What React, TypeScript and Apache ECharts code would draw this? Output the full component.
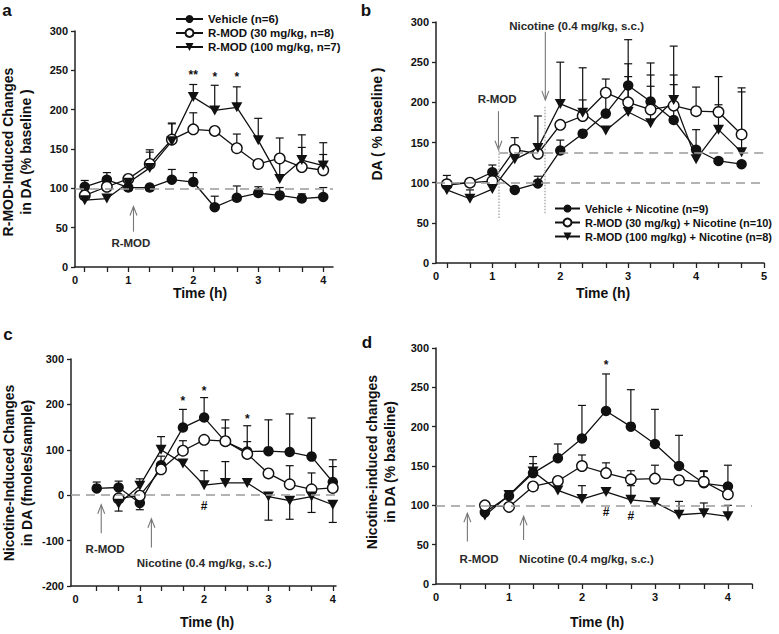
import React, { useEffect, useRef } from "react";
import * as echarts from "echarts";

const FONT = '"Liberation Sans", Arial, Helvetica, sans-serif';
const INK = "#111";

// ---------- Panel a ----------
const timesA = [0.33, 0.67, 1, 1.33, 1.67, 2, 2.33, 2.67, 3, 3.33, 3.67, 4];
const vehA = [102, 111, 101, 101, 111, 108, 76, 88, 94, 91, 87, 89];
const vehAErr = [8, 9, 0, 0, 13, 12, 14, 15, 8, 10, 6, 12];
const r30A = [91, 102, 112, 131, 162, 175, 173, 151, 131, 138, 127, 123];
const r30AErr = [0, 0, 0, 18, 21, 21, 0, 18, 0, 0, 25, 20];
const r100A = [85, 87, 107, 126, 160, 216, 199, 203, 161, 112, 136, 129];
const r100AErr = [0, 0, 0, 20, 22, 16, 32, 26, 28, 52, 32, 29];
const legendA = ["Vehicle (n=6)", "R-MOD (30 mg/kg, n=8)", "R-MOD (100 mg/kg, n=7)"];

// ---------- Panel b ----------
const timesB = [0.33, 0.67, 1, 1.33, 1.67, 2, 2.33, 2.67, 3, 3.33, 3.67, 4, 4.33, 4.67];
const vehB = [97, 100, 113, 91, 99, 140, 161, 186, 221, 201, 178, 141, 127, 123];
const vehBErr = [12, 0, 9, 0, 9, 13, 0, 30, 57, 48, 44, 25, 0, 0];
const r30B = [98, 100, 102, 141, 136, 172, 183, 212, 200, 191, 196, 189, 188, 160];
const r30BErr = [0, 0, 0, 15, 0, 0, 20, 17, 48, 43, 38, 30, 44, 58];
const r100B = [91, 80, 92, 129, 143, 198, 187, 165, 188, 174, 203, 129, 166, 138];
const r100BErr = [0, 11, 0, 0, 40, 52, 56, 0, 44, 46, 67, 0, 31, 75];
const legendB = [
  "Vehicle + Nicotine (n=9)",
  "R-MOD (30 mg/kg) + Nicotine (n=10)",
  "R-MOD (100 mg/kg) + Nicotine (n=8)",
];

// ---------- Panel c ----------
const timesC = [0.33, 0.67, 1, 1.33, 1.67, 2, 2.33, 2.67, 3, 3.33, 3.67, 4];
const vehC = [15, 17, -17, 66, 149, 171, 118, 96, 97, 95, 85, 29];
const vehCErr = [14, 14, -15, 20, 40, 44, 48, 57, 69, 84, 85, 49];
const r30C = [null, -7, -1, 57, 98, 122, 119, 91, 48, 24, 13, 16];
const r30CErr = [0, 0, 0, 0, 22, 0, 29, 27, 0, 41, 36, 47];
const r100C = [null, -19, 21, 100, 70, 22, 27, 27, -3, -12, -3, -21];
const r100CErr = [0, -16, 15, 29, 0, 32, 47, 0, -52, -41, -35, -39];

// ---------- Panel d ----------
const timesD = [0.67, 1, 1.33, 1.67, 2, 2.33, 2.67, 3, 3.33, 3.67, 4];
const vehD = [91, 112, 141, 160, 185, 220, 200, 178, 150, 128, 124];
const vehDErr = [0, 0, 21, 18, 42, 47, 47, 44, 39, 16, 27];
const r30D = [100, 98, 124, 131, 150, 141, 133, 134, 132, 130, 114];
const r30DErr = [0, 0, 0, 0, 14, 13, 11, 17, 0, 13, 0];
const r100D = [87, 113, 143, 119, 108, 117, 107, 104, 88, 90, 86];
const r100DErr = [0, 0, 10, 0, 17, 0, 18, 0, 17, 13, 14];

// tick labels
const xLabelsAB = [1, 2, 3, 4, 5];
const xTicksThird = [0.33, 0.67, 1, 1.33, 1.67, 2, 2.33, 2.67, 3, 3.33, 3.67, 4, 4.33, 4.67, 5];

type Note = { x: number; y: number; text: string };
type Arrow = { x: number; tail: number; head: number };

const notesA: Note[] = [
  { x: 2, y: 244, text: "**" },
  { x: 2.33, y: 242, text: "*" },
  { x: 2.67, y: 241, text: "*" },
  { x: 1.04, y: 30, text: "R-MOD" },
];
const arrowsA: Arrow[] = [{ x: 1.08, tail: 45, head: 77 }];

const notesB: Note[] = [
  { x: 1.07, y: 204, text: "R-MOD" },
  { x: 2.24, y: 295, text: "Nicotine (0.4 mg/kg, s.c.)" },
];
const arrowsB: Arrow[] = [
  { x: 1.09, tail: 189, head: 141 },
  { x: 1.78, tail: 288, head: 203 },
];

const notesC: Note[] = [
  { x: 1.67, y: 207, text: "*" },
  { x: 2, y: 230, text: "*" },
  { x: 2.67, y: 168, text: "*" },
  { x: 2, y: -23, text: "#" },
  { x: 0.46, y: -119, text: "R-MOD" },
  { x: 2.0, y: -150, text: "Nicotine (0.4 mg/kg, s.c.)" },
];
const arrowsC: Arrow[] = [
  { x: 0.4, tail: -84, head: -21 },
  { x: 1.18, tail: -115, head: -52 },
];

const notesD: Note[] = [
  { x: 2.33, y: 278, text: "*" },
  { x: 2.33, y: 91, text: "#" },
  { x: 2.67, y: 86, text: "#" },
  { x: 0.59, y: 32, text: "R-MOD" },
  { x: 2.06, y: 32, text: "Nicotine (0.4 mg/kg, s.c.)" },
];
const arrowsD: Arrow[] = [
  { x: 0.43, tail: 54, head: 90 },
  { x: 1.2, tail: 56, head: 86 },
];

const TRI = "path://M0,0L10,0L5,9Z";

function pairs(times: number[], vals: (number | null)[]) {
  const out: number[][] = [];
  times.forEach((t, i) => {
    const v = vals[i];
    if (v !== null && v !== undefined) out.push([t, v]);
  });
  return out;
}

function lineSeries(name: string, gi: number, times: number[], vals: (number | null)[], kind: string, extra: any = {}) {
  const sym = kind === "tri" ? TRI : "circle";
  return {
    type: "line",
    name,
    xAxisIndex: gi,
    yAxisIndex: gi,
    data: pairs(times, vals),
    symbol: sym,
    symbolSize: kind === "tri" ? [11, 10] : 10.5,
    showSymbol: true,
    silent: true,
    z: 3,
    lineStyle: { color: INK, width: 1.3 },
    itemStyle: {
      color: kind === "open" ? "#fff" : INK,
      borderColor: INK,
      borderWidth: kind === "open" ? 1.4 : 0,
    },
    emphasis: { disabled: true },
    ...extra,
  };
}

function errorBars(gi: number, times: number[], vals: (number | null)[], errs: number[]) {
  const data: number[][] = [];
  times.forEach((t, i) => {
    const v = vals[i];
    if (v !== null && v !== undefined && errs[i]) data.push([t, v, v + errs[i]]);
  });
  return {
    type: "custom",
    xAxisIndex: gi,
    yAxisIndex: gi,
    silent: true,
    z: 2,
    data,
    encode: { x: 0, y: [1, 2] },
    renderItem: (_p: any, api: any) => {
      const a = api.coord([api.value(0), api.value(1)]);
      const b = api.coord([api.value(0), api.value(2)]);
      const st = { stroke: INK, lineWidth: 1.2 };
      return {
        type: "group",
        children: [
          { type: "line", shape: { x1: a[0], y1: a[1], x2: b[0], y2: b[1] }, style: st },
          { type: "line", shape: { x1: b[0] - 4, y1: b[1], x2: b[0] + 4, y2: b[1] }, style: st },
        ],
      };
    },
  };
}

function arrowSeries(gi: number, list: Arrow[]) {
  return {
    type: "custom",
    xAxisIndex: gi,
    yAxisIndex: gi,
    silent: true,
    z: 4,
    data: list.map((a) => [a.x, a.tail, a.head]),
    encode: { x: 0, y: [1, 2] },
    renderItem: (_p: any, api: any) => {
      const t = api.coord([api.value(0), api.value(1)]);
      const h = api.coord([api.value(0), api.value(2)]);
      const dir = t[1] > h[1] ? 1 : -1;
      const st = { stroke: "#777", lineWidth: 1.1, fill: "none" };
      return {
        type: "group",
        children: [
          { type: "line", shape: { x1: t[0], y1: t[1], x2: h[0], y2: h[1] }, style: st },
          {
            type: "polyline",
            shape: { points: [[h[0] - 3.5, h[1] + dir * 9], [h[0], h[1]], [h[0] + 3.5, h[1] + dir * 9]] },
            style: st,
          },
        ],
      };
    },
  };
}

function noteSeries(gi: number, list: Note[]) {
  return {
    type: "custom",
    xAxisIndex: gi,
    yAxisIndex: gi,
    silent: true,
    z: 5,
    data: list.map((n) => [n.x, n.y]),
    encode: { x: 0, y: 1 },
    renderItem: (p: any, api: any) => {
      const c = api.coord([api.value(0), api.value(1)]);
      const n = list[p.dataIndex];
      const small = n.text.length <= 2;
      return {
        type: "text",
        x: c[0],
        y: c[1],
        style: {
          text: n.text,
          fill: small ? INK : "#2a2a2a",
          fontSize: small ? 12 : 11.5,
          fontWeight: "bold",
          fontFamily: FONT,
          align: "center",
          verticalAlign: "middle",
        },
      };
    },
  };
}

const dashed = { color: "#9a9a9a", type: [9, 6], width: 1.5 };
const dotted = { color: "#b0b0b0", type: "dotted", width: 1.5 };

function markLines(items: any[]) {
  return {
    markLine: {
      silent: true,
      symbol: ["none", "none"],
      label: { show: false },
      lineStyle: dashed,
      data: items,
    },
  };
}

function xAxis(gi: number, min: number, max: number, labels: number[], ticks: number[], zeroAtMin: boolean) {
  return {
    type: "value",
    gridIndex: gi,
    min,
    max,
    splitLine: { show: false },
    axisLine: { show: true, onZero: false, lineStyle: { color: "#222", width: 1.5 } },
    axisTick: { show: true, customValues: ticks.filter((t) => t <= max), length: 5, lineStyle: { color: "#222", width: 1.3 } },
    axisLabel: {
      customValues: zeroAtMin ? [min, ...labels.filter((l) => l <= max)] : [0, ...labels.filter((l) => l <= max)],
      formatter: (v: number) => (v < 0.5 ? "0" : String(Math.round(v))),
      color: INK,
      fontWeight: "bold",
      fontSize: 11,
      fontFamily: FONT,
      margin: 7,
    },
  };
}

function yAxis(gi: number, min: number, max: number, interval: number) {
  return {
    type: "value",
    gridIndex: gi,
    min,
    max,
    interval,
    splitLine: { show: false },
    axisLine: { show: true, onZero: false, lineStyle: { color: "#222", width: 1.5 } },
    axisTick: { show: true, length: 4, lineStyle: { color: "#222", width: 1.3 } },
    axisLabel: { color: INK, fontWeight: "bold", fontSize: 11, fontFamily: FONT, margin: 7 },
  };
}

function txt(x: number, y: number, text: string, size: number, rotate = 0, lineHeight = 0) {
  return {
    type: "text",
    x,
    y,
    rotation: rotate,
    silent: true,
    style: {
      text,
      fill: INK,
      fontSize: size,
      fontWeight: "bold",
      fontFamily: FONT,
      align: "center",
      verticalAlign: "middle",
      lineHeight: lineHeight || undefined,
    },
  };
}

export default function App() {
  const ref = useRef<HTMLDivElement>(null);
  useEffect(() => {
    if (!ref.current) return;
    const chart = echarts.init(ref.current, undefined, { renderer: "svg" });
    const legendCommon = {
      orient: "vertical",
      selectedMode: false,
      itemWidth: 27,
      itemHeight: 10,
      itemGap: 2,
      textStyle: { color: INK, fontWeight: "bold", fontSize: 11.5, fontFamily: FONT },
    };
    const option: any = {
      animation: false,
      backgroundColor: "#fff",
      grid: [
        { left: 75, top: 31, width: 258, height: 236 },
        { left: 436, top: 22, width: 328, height: 241 },
        { left: 71, top: 359, width: 265, height: 227 },
        { left: 436, top: 348, width: 316, height: 236 },
      ],
      xAxis: [
        xAxis(0, 0.18, 4.15, xLabelsAB, xTicksThird, true),
        xAxis(1, 0.17, 5, xLabelsAB, xTicksThird, true),
        xAxis(2, -0.07, 4.05, xLabelsAB, xTicksThird, false),
        xAxis(3, 0, 4.33, xLabelsAB, xTicksThird, false),
      ],
      yAxis: [yAxis(0, 0, 300, 50), yAxis(1, 0, 300, 50), yAxis(2, -200, 300, 100), yAxis(3, 0, 300, 50)],
      legend: [
        { ...legendCommon, left: 170, top: 8, data: legendA },
        {
          ...legendCommon,
          left: 549,
          top: 198,
          itemWidth: 25,
          itemGap: 3,
          textStyle: { ...legendCommon.textStyle, fontSize: 11 },
          data: legendB,
        },
      ],
      graphic: [
        txt(7, 10, "a", 17),
        txt(366, 10, "b", 17),
        txt(8, 334, "c", 17),
        txt(367, 342, "d", 17),
        txt(17, 152, "R-MOD-Induced Changes\nin DA (% baseline )", 14, Math.PI / 2, 18),
        txt(377, 124, "DA ( % baseline )", 14, Math.PI / 2),
        txt(17.5, 473, "Nicotine-Induced Changes\nin DA (fmoles/sample)", 14, Math.PI / 2, 18),
        txt(381, 462, "Nicotine-induced changes\nin DA (% baseline)", 14, Math.PI / 2, 18),
        txt(200, 293, "Time (h)", 14),
        txt(603, 293, "Time (h)", 14),
        txt(207, 622, "Time (h)", 14),
        txt(597, 622, "Time (h)", 14),
      ],
      series: [
        // a
        errorBars(0, timesA, vehA, vehAErr),
        errorBars(0, timesA, r30A, r30AErr),
        errorBars(0, timesA, r100A, r100AErr),
        lineSeries(legendA[0], 0, timesA, vehA, "fill", markLines([{ yAxis: 100 }])),
        lineSeries(legendA[1], 0, timesA, r30A, "open"),
        lineSeries(legendA[2], 0, timesA, r100A, "tri"),
        arrowSeries(0, arrowsA),
        noteSeries(0, notesA),
        // b
        errorBars(1, timesB, vehB, vehBErr),
        errorBars(1, timesB, r30B, r30BErr),
        errorBars(1, timesB, r100B, r100BErr),
        lineSeries(
          legendB[0],
          1,
          timesB,
          vehB,
          "fill",
          markLines([
            { yAxis: 100 },
            [{ coord: [1.1, 137.5] }, { coord: [5, 137.5] }],
            [{ coord: [1.1, 56], lineStyle: dotted }, { coord: [1.1, 145], lineStyle: dotted }],
            [{ coord: [1.77, 62], lineStyle: dotted }, { coord: [1.77, 195], lineStyle: dotted }],
          ])
        ),
        lineSeries(legendB[1], 1, timesB, r30B, "open"),
        lineSeries(legendB[2], 1, timesB, r100B, "tri"),
        arrowSeries(1, arrowsB),
        noteSeries(1, notesB),
        // c
        errorBars(2, timesC, vehC, vehCErr),
        errorBars(2, timesC, r30C, r30CErr),
        errorBars(2, timesC, r100C, r100CErr),
        lineSeries("c-vehicle", 2, timesC, vehC, "fill", markLines([{ yAxis: 0 }])),
        lineSeries("c-rmod30", 2, timesC, r30C, "open"),
        lineSeries("c-rmod100", 2, timesC, r100C, "tri"),
        arrowSeries(2, arrowsC),
        noteSeries(2, notesC),
        // d
        errorBars(3, timesD, vehD, vehDErr),
        errorBars(3, timesD, r30D, r30DErr),
        errorBars(3, timesD, r100D, r100DErr),
        lineSeries("d-vehicle", 3, timesD, vehD, "fill", markLines([{ yAxis: 100 }])),
        lineSeries("d-rmod30", 3, timesD, r30D, "open"),
        lineSeries("d-rmod100", 3, timesD, r100D, "tri"),
        arrowSeries(3, arrowsD),
        noteSeries(3, notesD),
      ],
    };
    chart.setOption(option);
    return () => chart.dispose();
  }, []);
  return (
    <div
      ref={ref}
      style={{ position: "fixed", left: 0, top: 0, width: 779, height: 634, background: "#fff" }}
    />
  );
}
